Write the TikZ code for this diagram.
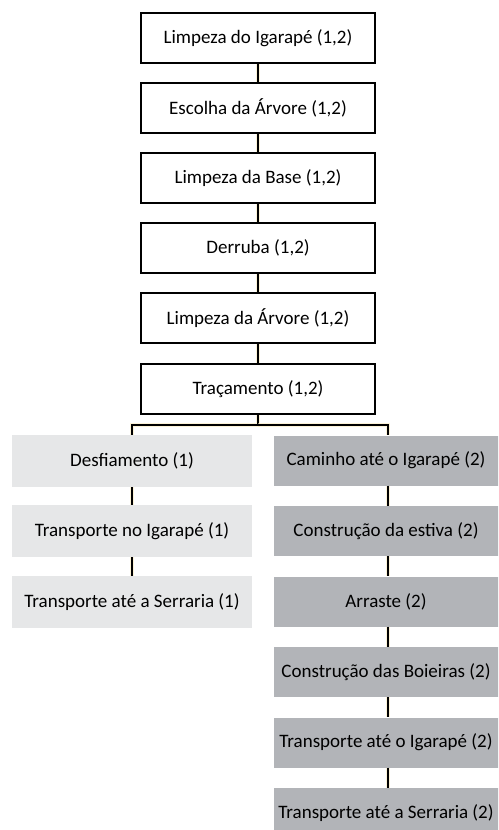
\documentclass[tikz,border=0pt]{standalone}
\usepackage{fontspec}
\setmainfont{Carlito}
\definecolor{lightbox}{RGB}{230,231,232}
\definecolor{darkbox}{RGB}{178,180,184}
\definecolor{glow}{RGB}{250,235,190}
\begin{document}
\begin{tikzpicture}[x=1pt,y=-1pt,
  every node/.style={font=\fontsize{19}{22}\selectfont, inner sep=0pt, anchor=center},
  topbox/.style={draw=black, line width=2pt, fill=white, minimum width=234pt, minimum height=50pt},
  leftbox/.style={fill=lightbox, minimum width=240pt, minimum height=52pt},
  rightbox/.style={fill=darkbox, minimum width=232pt, minimum height=50pt},
  conn/.style={draw=black, line width=1.5pt, preaction={draw=glow, line width=4pt, opacity=0.6}}]
\useasboundingbox (0,0) rectangle (498,830);
\clip (0,0) rectangle (498,830);
\fill[white] (0,0) rectangle (498,830);
% top column
\node[topbox] (t1) at (258,38) {Limpeza do Igarapé (1,2)};
\node[topbox] (t2) at (258,108) {Escolha da Árvore (1,2)};
\node[topbox] (t3) at (258,178) {Limpeza da Base (1,2)};
\node[topbox] (t4) at (258,248) {Derruba (1,2)};
\node[topbox] (t5) at (258,318) {Limpeza da Árvore (1,2)};
\node[topbox] (t6) at (258,389) {Traçamento (1,2)};
% left column
\node[leftbox] (l1) at (132,461) {Desfiamento (1)};
\node[leftbox] (l2) at (132,531) {Transporte no Igarapé (1)};
\node[leftbox] (l3) at (132,602) {Transporte até a Serraria (1)};
% right column
\node[rightbox] (r1) at (390,460.5) {};
\node[rightbox] (r2) at (390,531) {};
\node[rightbox] (r3) at (390,601.5) {};
\node[rightbox] (r4) at (390,672) {};
\node[rightbox] (r5) at (390,742.5) {};
\node[rightbox] (r6) at (390,813) {};
\node at (386,460.5) {Caminho até o Igarapé (2)};
\node at (386,531) {Construção da estiva (2)};
\node at (386,601.5) {Arraste (2)};
\node at (386,672) {Construção das Boieiras (2)};
\node at (386,742.5) {Transporte até o Igarapé (2)};
\node at (386,813) {Transporte até a Serraria (2)};
% connectors
\draw[conn] (t1.south) -- (t2.north);
\draw[conn] (t2.south) -- (t3.north);
\draw[conn] (t3.south) -- (t4.north);
\draw[conn] (t4.south) -- (t5.north);
\draw[conn] (t5.south) -- (t6.north);
\coordinate (bus) at (258,425);
\draw[conn] (t6.south) -- (bus) -| (l1.north);
\draw[conn] (bus) -| ([xshift=-2pt]r1.north);
\draw[conn] (l1.south) -- (l2.north);
\draw[conn] (l2.south) -- (l3.north);
\draw[conn] ([xshift=-2pt]r1.south) -- ([xshift=-2pt]r2.north);
\draw[conn] ([xshift=-2pt]r2.south) -- ([xshift=-2pt]r3.north);
\draw[conn] ([xshift=-2pt]r3.south) -- ([xshift=-2pt]r4.north);
\draw[conn] ([xshift=-2pt]r4.south) -- ([xshift=-2pt]r5.north);
\draw[conn] ([xshift=-2pt]r5.south) -- ([xshift=-2pt]r6.north);
\end{tikzpicture}
\end{document}
